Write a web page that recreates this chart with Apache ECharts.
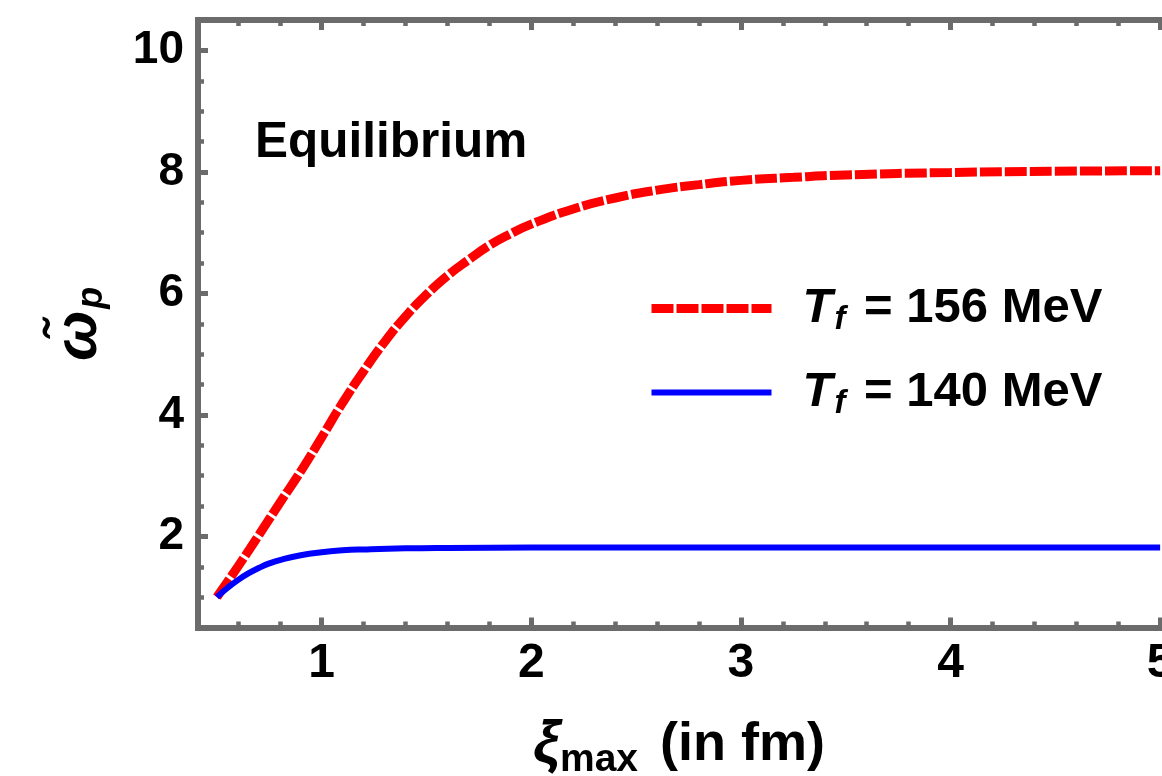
<!DOCTYPE html>
<html>
<head>
<meta charset="utf-8">
<title>Equilibrium ω̃p vs ξmax</title>
<script src="https://cdn.jsdelivr.net/npm/echarts@6/dist/echarts.min.js"></script>
<style>
  html, body { margin: 0; padding: 0; background: #ffffff; }
  #chart { width: 1162px; height: 776px; }
</style>
</head>
<body>
<div id="chart"></div>
<script>
// ξ_max in fm and the scaled frequency ω̃p for the two freeze-out temperatures
const xiHot = [0.5, 0.6, 0.7, 0.8, 0.9, 1.0, 1.1, 1.2, 1.3, 1.4, 1.5, 1.6, 1.7, 1.8, 1.9, 2.0,
               2.2, 2.4, 2.6, 2.8, 3.0, 3.25, 3.5, 4.0, 4.5, 5.0];
const omegaHot = [1.0, 1.5, 2.02, 2.55, 3.07, 3.63, 4.2, 4.72, 5.2, 5.62, 5.98, 6.29, 6.55, 6.79, 6.98, 7.14,
                  7.39, 7.57, 7.7, 7.79, 7.86, 7.91, 7.95, 7.99, 8.01, 8.02];
const xiCool = [0.5, 0.55, 0.6, 0.65, 0.7, 0.75, 0.8, 0.9, 1.0, 1.1, 1.2, 1.4, 1.6, 2.0, 3.0, 4.0, 5.0];
const omegaCool = [1.0, 1.15, 1.28, 1.39, 1.48, 1.555, 1.61, 1.69, 1.74, 1.77, 1.785, 1.803, 1.81, 1.815, 1.815, 1.815, 1.815];

const seriesNames = ['T_f = 156 MeV', 'T_f = 140 MeV'];
const legendValues = ['156', '140'];

// Frame ticks and labels
const xMajorTicks = [1, 2, 3, 4, 5];
const xMinorTicks = [0.6, 0.8, 1.2, 1.4, 1.6, 1.8, 2.2, 2.4, 2.6, 2.8, 3.2, 3.4, 3.6, 3.8, 4.2, 4.4, 4.6, 4.8];
const yMajorTicks = [2, 4, 6, 8, 10];
const yMinorTicks = [1, 1.5, 2.5, 3, 3.5, 4.5, 5, 5.5, 6.5, 7, 7.5, 8.5, 9, 9.5];

const X_MIN = 0.41, X_MAX = 5.09, Y_MIN = 0.5, Y_MAX = 10.5;
const FRAME = '#6b6b6b';
const FONT = '"Liberation Sans", Arial, Helvetica, sans-serif';

const toPairs = (xs, ys) => xs.map((x, i) => [x, ys[i]]);

function frameAxis(pos, ticks, len, width, withLine, withLabels) {
  return {
    type: 'value', position: pos, min: X_MIN, max: X_MAX,
    axisLine: { show: withLine, onZero: false, lineStyle: { color: FRAME, width: 6, cap: 'square' } },
    axisTick: { show: true, inside: true, length: len, customValues: ticks,
                lineStyle: { color: FRAME, width: width } },
    axisLabel: withLabels
      ? { show: true, customValues: ticks, margin: 12, color: '#000', fontFamily: FONT,
          fontWeight: 'bold', fontSize: 48 }
      : { show: false },
    splitLine: { show: false }
  };
}

function frameYAxis(ticks, len, width, withLine, withLabels) {
  const ax = {
    type: 'value', position: 'left', min: Y_MIN, max: Y_MAX,
    axisLine: { show: withLine, onZero: false, lineStyle: { color: FRAME, width: 6, cap: 'square' } },
    axisTick: { show: true, inside: true, length: len, customValues: ticks,
                lineStyle: { color: FRAME, width: width } },
    axisLabel: withLabels
      ? { show: true, customValues: ticks, margin: 14, color: '#000', fontFamily: FONT,
          fontWeight: 'bold', fontSize: 46 }
      : { show: false },
    splitLine: { show: false }
  };
  if (withLabels) {
    ax.name = '{w|ω̃}{p|p}';
    ax.nameLocation = 'middle';
    ax.nameRotate = 90;
    ax.nameGap = 86;
    ax.nameMoveOverlap = false;
    ax.nameTextStyle = {
      color: '#000',
      rich: {
        w: { fontFamily: FONT, fontSize: 60, fontWeight: 'bold', fontStyle: 'italic', lineHeight: 66, color: '#000' },
        p: { fontFamily: FONT, fontSize: 36, fontWeight: 'bold', fontStyle: 'italic', lineHeight: 66,
             padding: [26, 0, 0, 2], color: '#000' }
      }
    };
  }
  return ax;
}

const chart = echarts.init(document.getElementById('chart'), null, { renderer: 'canvas' });

chart.setOption({
  animation: false,
  backgroundColor: '#ffffff',
  grid: { left: 198, right: -17, top: 20, bottom: 148.5, containLabel: false, outerBoundsMode: 'none' },
  xAxis: [
    frameAxis('bottom', xMajorTicks, 10, 5, true, true),
    frameAxis('bottom', xMinorTicks, 6, 4.5, false, false),
    frameAxis('top', xMajorTicks, 10, 5, true, false),
    frameAxis('top', xMinorTicks, 6, 4.5, false, false)
  ],
  yAxis: [
    frameYAxis(yMajorTicks, 10, 5, true, true),
    frameYAxis(yMinorTicks, 6, 4.5, false, false)
  ],
  legend: {
    orient: 'vertical', left: 647, top: 281, padding: 0,
    itemWidth: 120, itemHeight: 10, itemGap: 29,
    selectedMode: false,
    itemStyle: { opacity: 0 },
    data: [
      { name: seriesNames[0], lineStyle: { width: 9 } },
      { name: seriesNames[1], lineStyle: { width: 6 } }
    ],
    formatter: (name) => {
      const v = legendValues[seriesNames.indexOf(name)];
      return '{t|T}{f|f}{r| = ' + v + ' MeV}';
    },
    textStyle: {
      color: '#000',
      rich: {
        t: { fontFamily: FONT, fontSize: 49, fontWeight: 'bold', fontStyle: 'italic', lineHeight: 58,
             padding: [0, 0, 0, 26], color: '#000' },
        f: { fontFamily: FONT, fontSize: 33, fontWeight: 'bold', fontStyle: 'italic', lineHeight: 58,
             padding: [22, 5, 0, 2], color: '#000' },
        r: { fontFamily: FONT, fontSize: 49, fontWeight: 'bold', lineHeight: 58, color: '#000' }
      }
    }
  },
  graphic: [
    {
      type: 'text', left: 255, top: 118,
      style: { text: 'Equilibrium', font: 'bold 49.5px ' + FONT, fill: '#000' }
    },
    {
      type: 'text', left: 533, top: 711,
      style: {
        text: '{x|ξ}{s|max}{r|(in fm)}',
        rich: {
          x: { fontFamily: FONT, fontSize: 60, fontWeight: 'bold', fontStyle: 'italic', lineHeight: 64, fill: '#000' },
          s: { fontFamily: FONT, fontSize: 39, fontWeight: 'bold', lineHeight: 64, padding: [30, 22, 0, 0], fill: '#000' },
          r: { fontFamily: FONT, fontSize: 54, fontWeight: 'bold', lineHeight: 64, fill: '#000' }
        }
      }
    }
  ],
  series: [
    {
      name: seriesNames[0], type: 'line', data: toPairs(xiHot, omegaHot),
      smooth: true, symbol: 'none', showSymbol: false,
      lineStyle: { color: '#ff0000', width: 9, type: [22, 3], cap: 'butt' },
      itemStyle: { color: '#ff0000' }
    },
    {
      name: seriesNames[1], type: 'line', data: toPairs(xiCool, omegaCool),
      smooth: true, symbol: 'none', showSymbol: false,
      lineStyle: { color: '#0000ff', width: 6, type: 'solid' },
      itemStyle: { color: '#0000ff' }
    }
  ]
});
</script>
</body>
</html>
